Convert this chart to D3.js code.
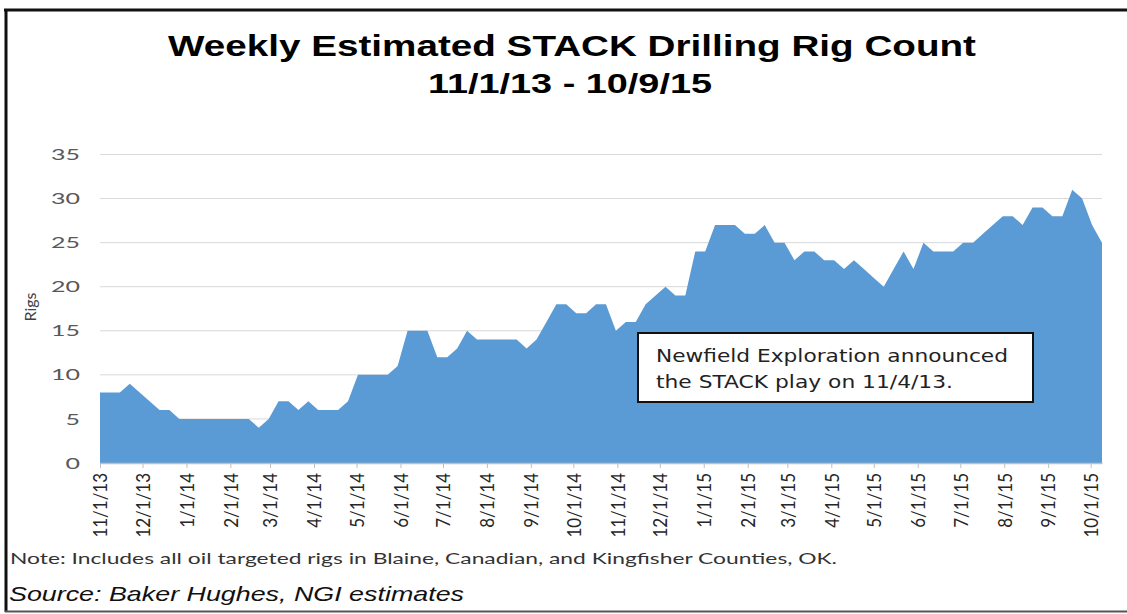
<!DOCTYPE html>
<html>
<head>
<meta charset="utf-8">
<script src="https://cdn.jsdelivr.net/npm/d3@7"></script>
<style>
  html, body { margin: 0; padding: 0; background: #fff; }
  svg { display: block; }
</style>
</head>
<body>
<svg id="chart" width="1127" height="614"></svg>
<script>
// Weekly STACK rig counts, one value per Friday from 11/1/13 through 10/9/15
const rigCounts = [
  8, 8, 8, 9, 8, 7, 6, 6, 5, 5,
  5, 5, 5, 5, 5, 5, 4, 5, 7, 7,
  6, 7, 6, 6, 6, 7, 10, 10, 10, 10,
  11, 15, 15, 15, 12, 12, 13, 15, 14, 14,
  14, 14, 14, 13, 14, 16, 18, 18, 17, 17,
  18, 18, 15, 16, 16, 18, 19, 20, 19, 19,
  24, 24, 27, 27, 27, 26, 26, 27, 25, 25,
  23, 24, 24, 23, 23, 22, 23, 22, 21, 20,
  22, 24, 22, 25, 24, 24, 24, 25, 25, 26,
  27, 28, 28, 27, 29, 29, 28, 28, 31, 30,
  27, 25
];
const firstWeek = "11/1/13";
const lastWeek = "10/9/15";

const monthTicks = [
  "11/1/13", "12/1/13", "1/1/14", "2/1/14", "3/1/14", "4/1/14",
  "5/1/14", "6/1/14", "7/1/14", "8/1/14", "9/1/14", "10/1/14",
  "11/1/14", "12/1/14", "1/1/15", "2/1/15", "3/1/15", "4/1/15",
  "5/1/15", "6/1/15", "7/1/15", "8/1/15", "9/1/15", "10/1/15"
];
const yTicks = [0, 5, 10, 15, 20, 25, 30, 35];

const titleLines = ["Weekly Estimated STACK Drilling Rig Count", "11/1/13 - 10/9/15"];
const yAxisTitle = "Rigs";
const calloutLines = ["Newfield Exploration announced", "the STACK play on 11/4/13."];
const noteText = "Note: Includes all oil targeted rigs in Blaine, Canadian, and Kingfisher Counties, OK.";
const sourceText = "Source: Baker Hughes, NGI estimates";

const parse = d3.timeParse("%m/%d/%y");
const weekDates = d3.timeFriday.range(parse(firstWeek), d3.timeDay.offset(parse(lastWeek), 1));
const series = weekDates.map((d, i) => ({ date: d, value: rigCounts[i] }));

const svg = d3.select("#chart");
const plot = { left: 100, right: 1102, top: 154.5, bottom: 463 };
const uiFont = "Lato, 'Open Sans', sans-serif";

const x = d3.scaleTime()
  .domain([parse(firstWeek), parse(lastWeek)])
  .range([plot.left, plot.right]);
const y = d3.scaleLinear()
  .domain([0, 35])
  .range([plot.bottom, plot.top]);

// outer frame
svg.append("line").attr("x1", 4).attr("x2", 1127).attr("y1", 10).attr("y2", 10)
  .attr("stroke", "#111").attr("stroke-width", 3);
svg.append("line").attr("x1", 6).attr("x2", 6).attr("y1", 9).attr("y2", 612)
  .attr("stroke", "#111").attr("stroke-width", 3);
svg.append("line").attr("x1", 5).attr("x2", 1127).attr("y1", 611.5).attr("y2", 611.5)
  .attr("stroke", "#555").attr("stroke-width", 2);

// title
svg.append("text")
  .attr("x", 168).attr("y", 56)
  .attr("textLength", 808).attr("lengthAdjust", "spacingAndGlyphs")
  .style("font-family", "'Liberation Sans', Arial, sans-serif")
  .style("font-weight", "bold").style("font-size", "29px").attr("fill", "#000")
  .text(titleLines[0]);
svg.append("text")
  .attr("x", 428).attr("y", 93)
  .attr("textLength", 284).attr("lengthAdjust", "spacingAndGlyphs")
  .style("font-family", "'Liberation Sans', Arial, sans-serif")
  .style("font-weight", "bold").style("font-size", "28px").attr("fill", "#000")
  .text(titleLines[1]);

// horizontal gridlines
svg.append("g").selectAll("line")
  .data(yTicks.filter(v => v > 0))
  .join("line")
  .attr("x1", plot.left).attr("x2", plot.right)
  .attr("y1", d => y(d)).attr("y2", d => y(d))
  .attr("stroke", "#d9d9d9").attr("stroke-width", 1);

// rig count area
const area = d3.area()
  .x(d => x(d.date))
  .y0(y(0))
  .y1(d => y(d.value));
svg.append("path")
  .datum(series)
  .attr("d", area)
  .attr("fill", "#5b9bd5");

// y axis: labels right-aligned 20px left of the plot, drawn wide
const yAxis = svg.append("g")
  .attr("transform", `translate(${plot.left},0)`)
  .call(d3.axisLeft(y).tickValues(yTicks).tickSize(0));
yAxis.select(".domain").remove();
yAxis.selectAll("text")
  .each(function (d) {
    const w = String(d).length * 14.5;
    d3.select(this)
      .attr("x", -20 - w)
      .attr("textLength", w)
      .attr("lengthAdjust", "spacingAndGlyphs");
  })
  .style("text-anchor", "start")
  .style("font-family", uiFont)
  .style("font-size", "16px")
  .attr("fill", "#595959");

svg.append("text")
  .attr("transform", "translate(36,307) rotate(-90)")
  .attr("text-anchor", "middle")
  .style("font-family", uiFont)
  .style("font-size", "16px")
  .attr("fill", "#404040")
  .text(yAxisTitle);

// x axis with monthly ticks
const xAxis = svg.append("g")
  .attr("transform", `translate(0,${plot.bottom})`)
  .call(d3.axisBottom(x)
    .tickValues(monthTicks.map(parse))
    .tickFormat((d, i) => monthTicks[i])
    .tickSizeInner(5).tickSizeOuter(0));
xAxis.select(".domain").attr("stroke", "#bfbfbf").attr("stroke-width", 1.5);
xAxis.selectAll(".tick line").attr("stroke", "#bfbfbf");
xAxis.selectAll("text")
  .attr("transform", "rotate(-90) scale(1,1.15)")
  .attr("x", -10).attr("y", 0).attr("dy", "0.35em")
  .style("text-anchor", "end")
  .style("font-family", uiFont)
  .style("font-size", "17px")
  .attr("fill", "#262626");

// callout box
svg.append("rect")
  .attr("x", 638).attr("y", 333).attr("width", 395).attr("height", 69)
  .attr("fill", "#fff").attr("stroke", "#111").attr("stroke-width", 2);
svg.append("g").selectAll("text")
  .data(calloutLines)
  .join("text")
  .attr("x", 656)
  .attr("y", (d, i) => 362 + i * 26)
  .attr("textLength", (d, i) => i === 0 ? 352 : 297)
  .attr("lengthAdjust", "spacingAndGlyphs")
  .style("font-family", "'DejaVu Sans', Verdana, sans-serif")
  .style("font-size", "17px")
  .attr("fill", "#222")
  .text(d => d);

// footnotes
svg.append("text")
  .attr("x", 10).attr("y", 564)
  .attr("textLength", 827).attr("lengthAdjust", "spacingAndGlyphs")
  .style("font-family", uiFont)
  .style("font-size", "16px")
  .attr("fill", "#333")
  .text(noteText);
svg.append("text")
  .attr("x", 9).attr("y", 601)
  .attr("textLength", 455).attr("lengthAdjust", "spacingAndGlyphs")
  .style("font-family", "'Liberation Sans', Arial, sans-serif")
  .style("font-style", "italic")
  .style("font-size", "21px")
  .attr("fill", "#111")
  .text(sourceText);
</script>
</body>
</html>
